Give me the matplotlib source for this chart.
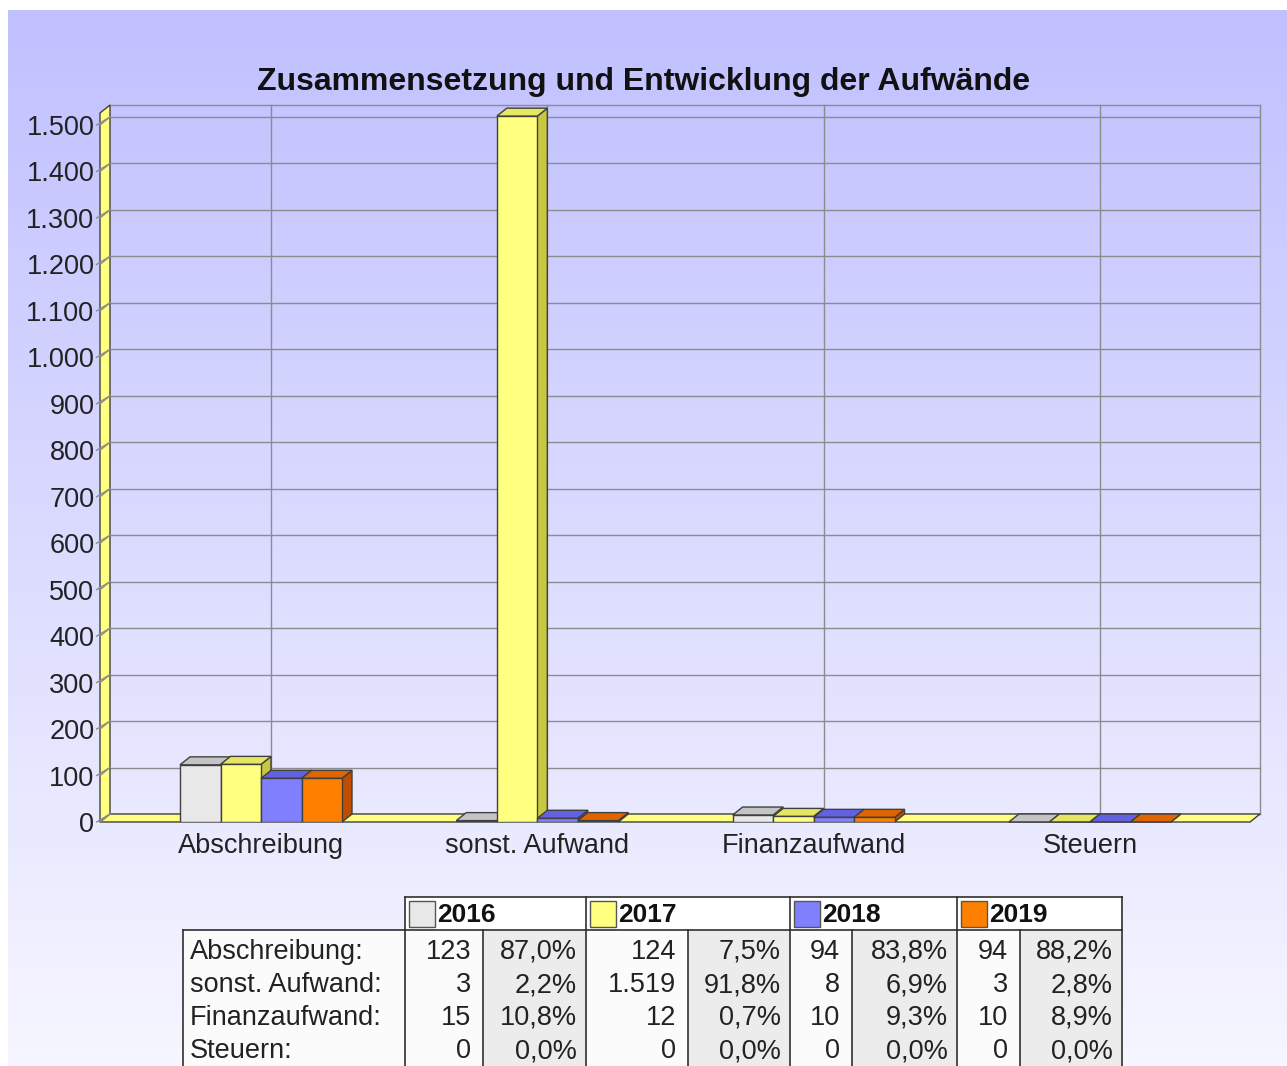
import numpy as np
import matplotlib
matplotlib.use('Agg')
import matplotlib.pyplot as plt
from matplotlib.patches import Polygon, Rectangle
from matplotlib.ticker import FuncFormatter

plt.rcParams['font.family'] = ['Liberation Sans', 'DejaVu Sans']

categories = ['Abschreibung', 'sonst. Aufwand', 'Finanzaufwand', 'Steuern']
years = ['2016', '2017', '2018', '2019']
v2016 = [123, 3, 15, 0]
v2017 = [124, 1519, 12, 0]
v2018 = [94, 8, 10, 0]
v2019 = [94, 3, 10, 0]
p2016 = ['87,0%', '2,2%', '10,8%', '0,0%']
p2017 = ['7,5%', '91,8%', '0,7%', '0,0%']
p2018 = ['83,8%', '6,9%', '9,3%', '0,0%']
p2019 = ['88,2%', '2,8%', '8,9%', '0,0%']
values = [v2016, v2017, v2018, v2019]
pcts = [p2016, p2017, p2018, p2019]

front = ['#e8e8e8', '#ffff80', '#8080ff', '#ff8000']
top = ['#c4c4c4', '#e6e660', '#6262e0', '#e06400']
side = ['#a8a8a8', '#c8c840', '#4848c0', '#c04c00']
edge = '#404040'

W, H = 1287, 1066
fig = plt.figure(figsize=(W / 100, H / 100), dpi=100)

# background panel with gradient
bg = fig.add_axes([0, 0, 1, 1])
bg.set_xlim(0, W)
bg.set_ylim(H, 0)
bg.axis('off')
grad = np.linspace(0, 1, 256).reshape(-1, 1)
c_top = np.array([192, 192, 255]) / 255
c_bot = np.array([246, 246, 255]) / 255
img = c_top + (c_bot - c_top) * grad[..., None]
img = img.reshape(256, 1, 3)
bg.imshow(img, extent=[8, W, H, 10], aspect='auto', zorder=0)

# main chart axes
px_per_val = 697 / 1500
px_per_cat = 276.3
x0 = -(261 - 100) / px_per_cat
x1 = x0 + 1150 / px_per_cat
ytop = (822 - 113) / px_per_val
ax = fig.add_axes([100 / W, (H - 822) / H, 1150 / W, 709 / H])
ax.set_xlim(x0, x1)
ax.set_ylim(0, ytop)
ax.patch.set_alpha(0)
for s in ax.spines.values():
    s.set_visible(False)

dxd = 10 / px_per_cat
dyd = 8 / px_per_val

# back wall grid
yticks = list(range(0, 1501, 100))
for v in yticks:
    ax.plot([x0 + dxd, x1 + dxd], [v + dyd, v + dyd], color='#8c8c8c', lw=1, zorder=1, clip_on=False)
    ax.plot([x0 - 0.012, x0 + dxd], [v, v + dyd], color='#8c8c8c', lw=1, zorder=3, clip_on=False)
ax.plot([x0 + dxd, x1 + dxd], [ytop + dyd, ytop + dyd], color='#8c8c8c', lw=1, zorder=1, clip_on=False)
for c in range(len(categories)):
    ax.plot([c + dxd, c + dxd], [dyd, ytop + dyd], color='#8c8c8c', lw=1, zorder=1, clip_on=False)
ax.plot([x1 + dxd, x1 + dxd], [dyd, ytop + dyd], color='#8c8c8c', lw=1, zorder=1, clip_on=False)

# left wall and floor
ax.add_patch(Polygon([(x0, 0), (x0, ytop), (x0 + dxd, ytop + dyd), (x0 + dxd, dyd)],
                     closed=True, fc='#ffff80', ec=edge, lw=1, zorder=2, clip_on=False))
for v in yticks:
    ax.plot([x0, x0 + dxd], [v, v + dyd], color='#8c8c8c', lw=1, zorder=2.5, clip_on=False)
ax.add_patch(Polygon([(x0, 0), (x1, 0), (x1 + dxd, dyd), (x0 + dxd, dyd)],
                     closed=True, fc='#ffff80', ec=edge, lw=1, zorder=2, clip_on=False))

# 3d bars
bw = 162 / 4 / px_per_cat
z = 4
for c in range(len(categories)):
    for i in range(len(years)):
        h = values[i][c]
        xl = c - 2 * bw + i * bw
        xr = xl + bw
        ax.add_patch(Polygon([(xr, 0), (xr, h), (xr + dxd, h + dyd), (xr + dxd, dyd)],
                             closed=True, fc=side[i], ec=edge, lw=1, zorder=z, clip_on=False))
        ax.add_patch(Polygon([(xl, h), (xr, h), (xr + dxd, h + dyd), (xl + dxd, h + dyd)],
                             closed=True, fc=top[i], ec=edge, lw=1, zorder=z + 0.1, clip_on=False))
        ax.bar(xl, h, width=bw, align='edge', color=front[i], edgecolor=edge, lw=1, zorder=z + 0.2)
        z += 1

ax.set_yticks(yticks)
ax.yaxis.set_major_formatter(FuncFormatter(lambda v, p: f'{int(v):,}'.replace(',', '.')))
ax.tick_params(axis='y', length=0, pad=4, labelsize=19.5, colors='#222222')
ax.set_xticks(range(len(categories)))
ax.set_xticklabels(categories)
ax.tick_params(axis='x', length=0, pad=8, labelsize=19.5, colors='#222222')

fig.text(0.5, 1 - 82 / H, 'Zusammensetzung und Entwicklung der Aufwände',
         ha='center', va='center', fontsize=23, fontweight='bold', color='#111111')

# data table below the chart
col_edges = [183, 405, 483, 586, 688, 790, 852, 957, 1020, 1122]
hdr_top, hdr_bot = 897, 930
row_h = 33
tbl_bot = H
for k in range(len(col_edges) - 1):
    fc = '#ececec' if k in (2, 4, 6, 8) else '#fbfbfb'
    bg.add_patch(Rectangle((col_edges[k], hdr_bot), col_edges[k + 1] - col_edges[k],
                           tbl_bot - hdr_bot, fc=fc, ec='none', zorder=2))
bg.add_patch(Rectangle((405, hdr_top), 1122 - 405, hdr_bot - hdr_top, fc='white', ec='none', zorder=2))
lc = '#303030'
bg.plot([405, 1122], [hdr_top, hdr_top], color=lc, lw=1.2, zorder=3)
bg.plot([183, 1122], [hdr_bot, hdr_bot], color=lc, lw=1.2, zorder=3)
for xe in [405, 586, 790, 957, 1122]:
    bg.plot([xe, xe], [hdr_top, hdr_bot], color=lc, lw=1.2, zorder=3)
for xe in col_edges:
    bg.plot([xe, xe], [hdr_bot, tbl_bot], color=lc, lw=1.2, zorder=3)

year_left = [405, 586, 790, 957]
for i, y in enumerate(years):
    bg.add_patch(Rectangle((year_left[i] + 4, hdr_top + 4), 26, 26, fc=front[i], ec='#555555', lw=1, zorder=4))
    bg.text(year_left[i] + 32, (hdr_top + hdr_bot) / 2 + 1, y, ha='left', va='center',
            fontsize=19, fontweight='bold', color='#111111', zorder=4)

for r, cat in enumerate(categories):
    yc = hdr_bot + 22 + r * row_h
    bg.text(190, yc, cat + ':', ha='left', va='center', fontsize=19.5, color='#222222', zorder=4)
    for i in range(len(years)):
        v = values[i][r]
        bg.text(col_edges[1 + 2 * i + 1] - 12, yc, f'{v:,}'.replace(',', '.'), ha='right', va='center',
                fontsize=19.5, color='#222222', zorder=4)
        bg.text(col_edges[1 + 2 * i + 2] - 9, yc, pcts[i][r], ha='right', va='center',
                fontsize=19.5, color='#222222', zorder=4)

fig.savefig('out.png', dpi=100)
